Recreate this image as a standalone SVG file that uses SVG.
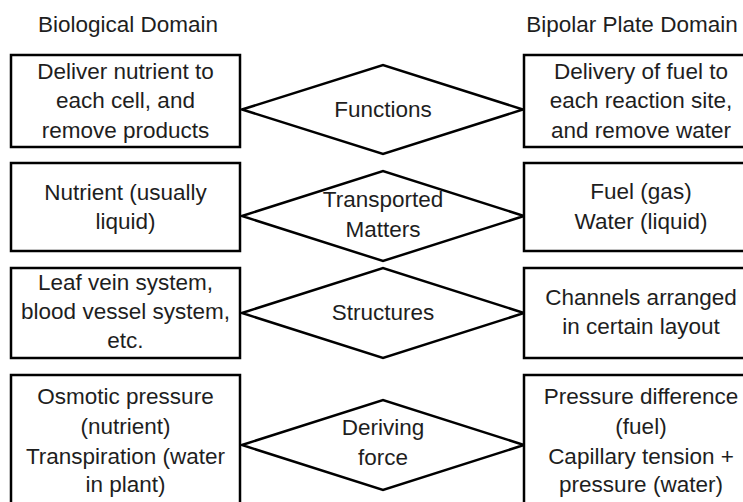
<svg xmlns="http://www.w3.org/2000/svg" width="743" height="502" viewBox="0 0 743 502">
<style>
.box{fill:#fff;stroke:#000;stroke-width:2.5}
.dia{fill:#fff;stroke:#000;stroke-width:2.5;stroke-linejoin:miter}
text{font-family:"Liberation Sans",Arial,sans-serif;font-size:22.5px;fill:#1e1e1e;text-anchor:middle}
</style>
<rect width="743" height="502" fill="#fff"/>
<g id="headers">
<text x="128" y="32">Biological Domain</text>
<text x="632" y="32">Bipolar Plate Domain</text>
</g>
<g id="connectors">
<polygon class="dia" points="242,109.5 383,65 523,109.5 383,154"/>
<polygon class="dia" points="242,216 383,171 524,216 383,261"/>
<polygon class="dia" points="242,313 383,268 524,313 383,358"/>
<polygon class="dia" points="242,445 383,400 524,445 383,490"/>
</g>
<g id="left1"><rect class="box" x="11" y="55" width="229" height="92"/>
<text x="125.5" y="79">Deliver nutrient to</text><text x="125.5" y="108">each cell, and</text><text x="125.5" y="138">remove products</text></g>
<g id="mid1"><text x="383" y="117">Functions</text></g>
<g id="right1"><rect class="box" x="524" y="55" width="234" height="92"/>
<text x="641" y="79">Delivery of fuel to</text><text x="641" y="108">each reaction site,</text><text x="641" y="138">and remove water</text></g>

<g id="left2"><rect class="box" x="11" y="163" width="229" height="88"/>
<text x="125.5" y="200">Nutrient (usually</text><text x="125.5" y="229">liquid)</text></g>
<g id="mid2"><text x="383" y="207">Transported</text><text x="383" y="237">Matters</text></g>
<g id="right2"><rect class="box" x="524" y="163" width="234" height="88"/>
<text x="641" y="199">Fuel (gas)</text><text x="641" y="229">Water (liquid)</text></g>

<g id="left3"><rect class="box" x="11" y="268" width="229" height="90"/>
<text x="125.5" y="290">Leaf vein system,</text><text x="125.5" y="319">blood vessel system,</text><text x="125.5" y="348">etc.</text></g>
<g id="mid3"><text x="383" y="320">Structures</text></g>
<g id="right3"><rect class="box" x="524" y="268" width="234" height="90"/>
<text x="641" y="305">Channels arranged</text><text x="641" y="334">in certain layout</text></g>

<g id="left4"><rect class="box" x="11" y="375" width="229" height="140"/>
<text x="125.5" y="404">Osmotic pressure</text><text x="125.5" y="434">(nutrient)</text><text x="125.5" y="464">Transpiration (water</text><text x="125.5" y="492">in plant)</text></g>
<g id="mid4"><text x="383" y="435">Deriving</text><text x="383" y="465">force</text></g>
<g id="right4"><rect class="box" x="524" y="375" width="234" height="140"/>
<text x="641" y="404">Pressure difference</text><text x="641" y="434">(fuel)</text><text x="641" y="464">Capillary tension +</text><text x="641" y="492">pressure (water)</text></g>
</svg>
